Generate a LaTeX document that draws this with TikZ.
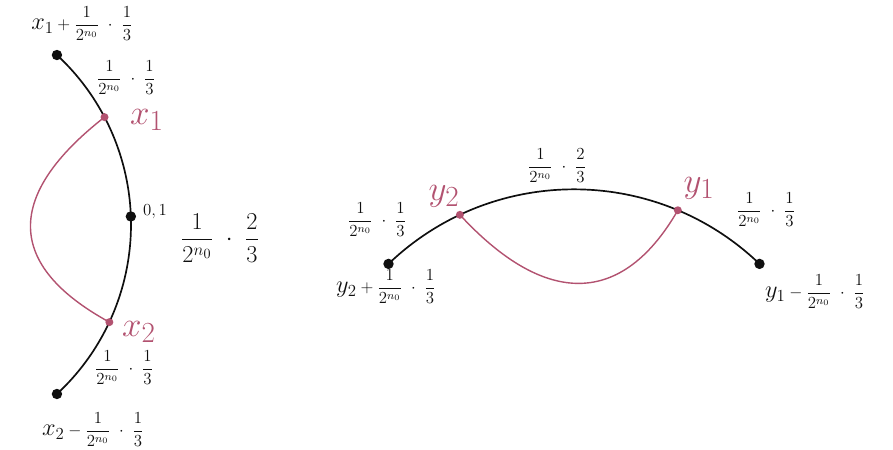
\documentclass[tikz,border=0pt]{standalone}
\usepackage{amsmath}
\usepackage{xcolor}
\usepackage{tikz}
\usetikzlibrary{positioning}
\definecolor{mydark}{RGB}{15,15,15}
\definecolor{mypink}{RGB}{178,82,112}
\tikzset{
  curve/.style={line width=1.2pt, color=mydark},
  pinkcurve/.style={line width=1pt, color=mypink},
  dot/.style={circle, fill=mydark, inner sep=0pt, minimum size=0.26cm},
  pinkdot/.style={circle, fill=mypink, inner sep=0pt, minimum size=0.2cm},
  lbl/.style={inner sep=1pt, font=\large, color=mydark},
  biglbl/.style={inner sep=1pt, font=\LARGE, color=mydark},
  smalllbl/.style={inner sep=1pt, font=\large, color=mydark},
  pinklbl/.style={inner sep=1pt, font=\Huge, color=mypink}
}
\newcommand{\stepfrac}[1]{\dfrac{1}{2^{n_0}}\;\cdot\;\dfrac{#1}{3}}
\newcommand{\bigvar}[1]{{\LARGE$#1$}}
\begin{document}
\begin{tikzpicture}[x=0.025cm, y=-0.025cm]
  \useasboundingbox (0,0) rectangle (893,449);
  % left arc, centre off to the left
  \coordinate (xc) at (-100,224.5);
  \coordinate (xtop) at ([shift={(-47.2:231)}]xc);
  \coordinate (xone) at ([shift={(-27.7:231)}]xc);
  \coordinate (xmid) at ([shift={(-2:231)}]xc);
  \coordinate (xtwo) at ([shift={(25:231)}]xc);
  \coordinate (xbot) at ([shift={(47.2:231)}]xc);
  \draw[curve] (xtop) arc[start angle=-47.2, end angle=47.2, radius=231];
  \draw[pinkcurve] (xone) .. controls (5,195) and (5,265) .. (xtwo);
  \node[dot] (dxtop) at (xtop) {};
  \node[dot] (dxmid) at (xmid) {};
  \node[dot] (dxbot) at (xbot) {};
  \node[pinkdot] (dxone) at (xone) {};
  \node[pinkdot] (dxtwo) at (xtwo) {};
  \node[lbl] (lxtop) at (82,24) {\bigvar{x_1}${}+\stepfrac{1}$};
  \node[lbl] (lxup) at (126,78) {$\stepfrac{1}$};
  \node[pinklbl] (lxone) at (147,120) {$x_1$};
  \node[smalllbl] (lxmid) at (155,212) {$0,1$};
  \node[biglbl] (lxarc) at (220,238) {$\stepfrac{2}$};
  \node[pinklbl] (lxtwo) at (139,332) {$x_2$};
  \node[lbl] (lxdown) at (124,368) {$\stepfrac{1}$};
  \node[lbl] (lxbot) at (93,430) {\bigvar{x_2}${}-\stepfrac{1}$};
  % right arc, centre below
  \coordinate (yc) at (574,457.3);
  \coordinate (yleft) at ([shift={(-133.8:268)}]yc);
  \coordinate (ytwo) at ([shift={(-115.2:268)}]yc);
  \coordinate (yone) at ([shift={(-67.2:268)}]yc);
  \coordinate (yright) at ([shift={(-46.2:268)}]yc);
  \draw[curve] (yleft) arc[start angle=-133.8, end angle=-46.2, radius=268];
  \draw[pinkcurve] (ytwo) .. controls (545,307) and (622,307) .. (yone);
  \node[dot] (dyleft) at (yleft) {};
  \node[dot] (dyright) at (yright) {};
  \node[pinkdot] (dytwo) at (ytwo) {};
  \node[pinkdot] (dyone) at (yone) {};
  \node[lbl] (lyup) at (377,220) {$\stepfrac{1}$};
  \node[pinklbl] (lytwo) at (444,196) {$y_2$};
  \node[lbl] (lyarc) at (557,166) {$\stepfrac{2}$};
  \node[pinklbl] (lyone) at (699,188) {$y_1$};
  \node[lbl] (lydown) at (766,210) {$\stepfrac{1}$};
  \node[lbl] (lyleft) at (386,287) {\bigvar{y_2}${}+\stepfrac{1}$};
  \node[lbl] (lyright) at (815,292) {\bigvar{y_1}${}-\stepfrac{1}$};
\end{tikzpicture}
\end{document}
